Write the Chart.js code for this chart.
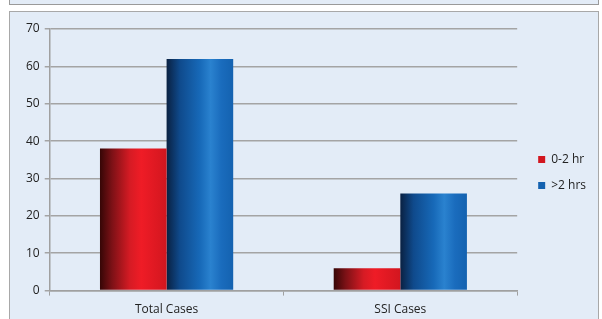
<!DOCTYPE html>
<html>
<head>
<meta charset="utf-8">
<script src="https://cdn.jsdelivr.net/npm/chart.js@4/dist/chart.umd.min.js"></script>
<style>
  body { margin: 0; background: #fff; width: 602px; height: 319px; overflow: hidden; position: relative; }
  #strip { position: absolute; left: 9px; top: -2px; width: 588px; height: 5px; background: #e3ecf7; border: 1px solid #9a9a9a; }
  #box { position: absolute; left: 9px; top: 11px; width: 588px; height: 320px; background: #e3ecf7; border: 1px solid #a8a8a8; }
  canvas { position: absolute; left: 0; top: 0; }
</style>
</head>
<body>
<div id="strip"></div>
<div id="box"><canvas id="chart" width="588" height="310" style="width:588px;height:310px"></canvas></div>
<script>
var categories = ["Total Cases", "SSI Cases"];
var shortValues = [38, 6];
var longValues = [62, 26];
var yTicks = [0, 10, 20, 30, 40, 50, 60, 70];

var redStops = [[0, "#360606"], [0.18, "#7c1116"], [0.45, "#d61b24"], [0.62, "#ef1c26"], [1, "#d2161f"]];
var blueStops = [[0, "#0a2142"], [0.2, "#0f4a8c"], [0.5, "#1769b8"], [0.66, "#2a82cf"], [0.82, "#1a6cbd"], [1, "#1462b0"]];
var catPct = 0.57;

// left-to-right gradient per bar, like a cylinder
function barFill(stops, flat) {
  return function (ctx) {
    var chart = ctx.chart;
    var x = chart.scales && chart.scales.x;
    if (!chart.chartArea || !x || ctx.dataIndex === undefined) return flat;
    var catW = x.width / categories.length;
    var barW = catW * catPct / 2;
    var left = x.getPixelForValue(ctx.dataIndex) - catW * catPct / 2 + ctx.datasetIndex * barW;
    var g = chart.ctx.createLinearGradient(left, 0, left + barW, 0);
    stops.forEach(function (s) { g.addColorStop(s[0], s[1]); });
    return g;
  };
}

// nudge the legend a bit right of the plot and slightly up
var legendShift = {
  id: "legendShift",
  beforeDraw: function (chart) {
    var lg = chart.legend;
    lg.left = chart.chartArea.right + 7;
    if (!lg._moved) { lg.top -= 4; lg.bottom -= 4; lg._moved = true; }
  }
};

var font = { family: "Open Sans", size: 12 };

new Chart(document.getElementById("chart").getContext("2d"), {
  type: "bar",
  data: {
    labels: categories,
    datasets: [
      { label: "0-2 hr", data: shortValues, backgroundColor: barFill(redStops, "#e31b23") },
      { label: ">2 hrs", data: longValues, backgroundColor: barFill(blueStops, "#1565b5") }
    ]
  },
  options: {
    responsive: false,
    animation: false,
    categoryPercentage: catPct,
    barPercentage: 1,
    layout: { padding: { top: 17, right: 9, left: 11, bottom: -2 } },
    plugins: {
      tooltip: { enabled: false },
      legend: {
        position: "right",
        labels: { boxWidth: 7, boxHeight: 7, padding: 14, color: "#222", font: font }
      }
    },
    scales: {
      x: {
        grid: { offset: true, drawOnChartArea: false, color: "#a0a0a0", tickLength: 5 },
        border: { color: "#a0a0a0", width: 1.5 },
        ticks: { color: "#222", font: font, padding: 7 }
      },
      y: {
        min: 0,
        max: 70,
        afterBuildTicks: function (scale) {
          scale.ticks = yTicks.map(function (v) { return { value: v }; });
        },
        grid: { color: "#a4a4a4", lineWidth: 1.5, tickLength: 5 },
        border: { color: "#a0a0a0", width: 1.5 },
        ticks: { color: "#222", font: font, padding: 5 }
      }
    }
  },
  plugins: [legendShift]
});
</script>
</body>
</html>
